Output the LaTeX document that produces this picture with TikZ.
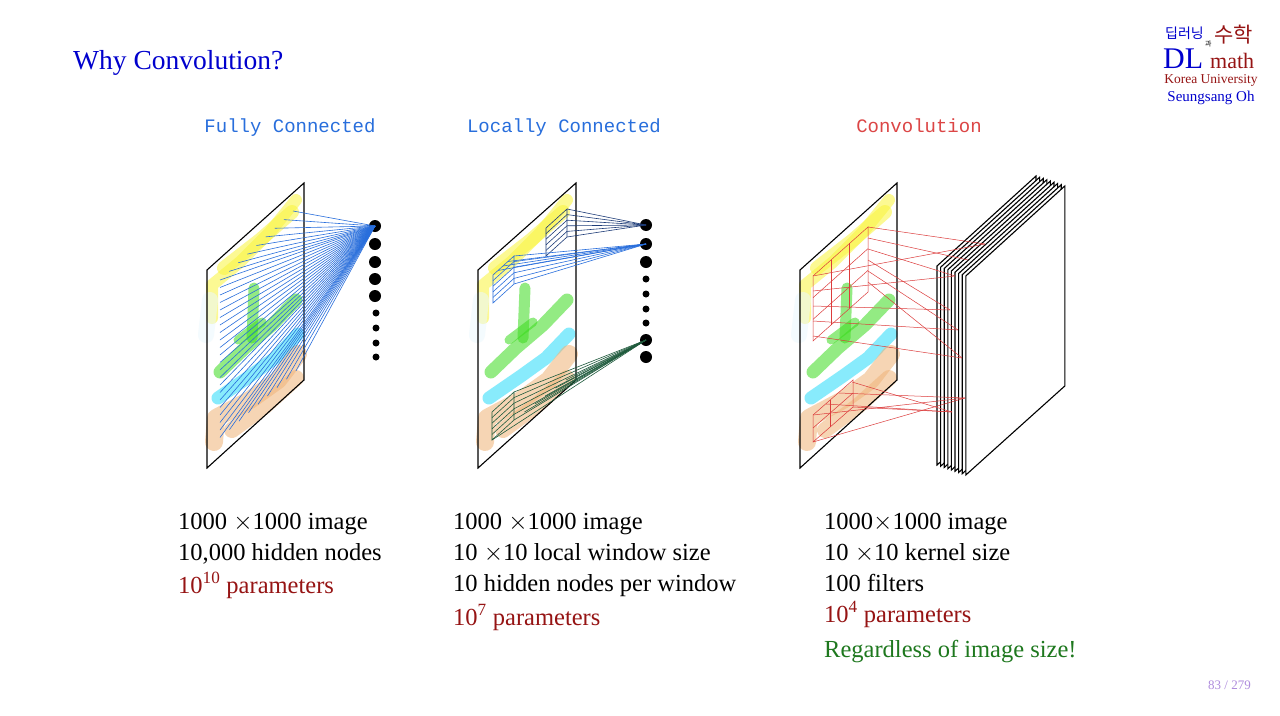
\documentclass[tikz,border=0pt]{standalone}
\usepackage{fontspec}
\setmainfont{Liberation Serif}
\newfontfamily\tw{Liberation Mono}
\newfontfamily\cjk{Noto Sans CJK KR}
\begin{document}
\begin{tikzpicture}[x=1pt,y=-1pt,
  pan/.style={draw=black,line width=1.1pt},
  blob/.style={line width=#1,line cap=round,line join=round,opacity=0.55},
  big/.style={circle,fill=black,inner sep=0pt,minimum size=12pt},
  small/.style={circle,fill=black,inner sep=0pt,minimum size=7pt},
  txt/.style={anchor=base west,font=\fontsize{24.5}{26}\selectfont,inner sep=0pt},
  head/.style={anchor=base,font=\tw\fontsize{19}{22}\selectfont,inner sep=0pt},
  fc/.style={draw={rgb,255:red,40;green,110;blue,220},line width=0.6pt},
  lcA/.style={draw={rgb,255:red,30;green,60;blue,120},line width=0.6pt},
  lcB/.style={draw={rgb,255:red,40;green,110;blue,220},line width=0.6pt},
  lcC/.style={draw={rgb,255:red,30;green,90;blue,60},line width=0.6pt},
  cv/.style={draw={rgb,255:red,220;green,60;blue,60},line width=0.5pt},
  sheet/.style={draw=black,fill=white,line width=1.1pt}]
\definecolor{dred}{RGB}{150,20,20}
\definecolor{hblue}{RGB}{40,110,220}
\definecolor{hred}{RGB}{220,70,70}
\definecolor{tblue}{RGB}{0,0,205}
\definecolor{dgreen}{RGB}{30,120,30}
\definecolor{byel}{RGB}{250,245,60}
\definecolor{bgrn}{RGB}{60,220,30}
\definecolor{bcya}{RGB}{40,220,250}
\definecolor{bora}{RGB}{240,180,120}
\useasboundingbox (0,0) rectangle (1280,715);
\fill[white] (0,0) rectangle (1280,715);
\newcommand\myblobs{%
  \draw[blob=12pt,byel] (212,318)--(212,285)--(240,262)--(270,232)--(296,200);
  \draw[blob=14pt,byel] (224,268)--(260,240)--(292,212);
  \draw[blob=16pt,cyan!8] (206,335)--(210,300);
  \draw[blob=11pt,bgrn] (254,288)--(252,338);
  \draw[blob=13pt,bgrn] (220,372)--(245,348)--(272,325)--(296,300);
  \draw[blob=9pt,bgrn] (238,340)--(262,322);
  \draw[blob=13pt,bcya] (218,398)--(250,376)--(275,358)--(298,334);
  \draw[blob=18pt,bora] (214,442)--(216,418)--(250,400)--(278,380)--(298,354);
  \draw[blob=16pt,bora] (232,430)--(265,406)--(296,378);
}
% title
\node[anchor=base west,inner sep=0pt,text=tblue,font=\fontsize{27.5}{28}\selectfont] (title) at (73,69) {Why Convolution?};
% logo
\node[anchor=base west,inner sep=0pt,text=tblue,font=\cjk\fontsize{14}{14}\selectfont] (k1) at (1165,38) {딥러닝};
\node[anchor=base west,inner sep=0pt,text=black,font=\cjk\fontsize{7}{7}\selectfont] (k2) at (1205,46) {과};
\node[anchor=base west,inner sep=0pt,text=dred,font=\cjk\fontsize{21}{21}\selectfont] (k3) at (1214,42) {수학};
\node[anchor=base west,inner sep=0pt,text=tblue,font=\fontsize{30}{30}\selectfont] (dl) at (1163,68) {DL};
\node[anchor=base west,inner sep=0pt,text=dred,font=\fontsize{22}{22}\selectfont] (mth) at (1210,68) {math};
\node[anchor=base,inner sep=0pt,text=dred,font=\fontsize{13.5}{13}\selectfont] (ku) at (1211,83) {Korea University};
\node[anchor=base,inner sep=0pt,text=tblue,font=\fontsize{15}{15}\selectfont] (so) at (1211,101) {Seungsang Oh};
% headings
\node[head,text=hblue] (h1) at (290,132) {Fully Connected};
\node[head,text=hblue] (h2) at (564,132) {Locally Connected};
\node[head,text=hred] (h3) at (919,132) {Convolution};
% ---------- panel 1
\myblobs
\draw[pan] (207,270)--(304,183)--(304,380)--(207,468)--cycle;
\node[big] (a1) at (375,226) {};
\node[big] (a2) at (375,244) {};
\node[big] (a3) at (375,262) {};
\node[big] (a4) at (375,279) {};
\node[big] (a5) at (375,296) {};
\node[small] (a6) at (376,313) {};
\node[small] (a7) at (376,328) {};
\node[small] (a8) at (376,343) {};
\node[small] (a9) at (376,357) {};
\foreach \i in {0,...,8}{\coordinate (u\i) at ({293-\i*73/8},{211+\i*69/8}); \draw[fc] (a1.center)--(u\i);}
\foreach \i in {1,...,21}{\coordinate (v\i) at (220,{280+\i*7.5}); \draw[fc] (a1.center)--(v\i);}
\foreach \i in {1,...,8}{\coordinate (w\i) at ({220+\i*9.5},{438-\i*8.4}); \draw[fc] (a1.center)--(w\i);}
% ---------- panel 2
\begin{scope}[xshift=271]\myblobs\end{scope}
\draw[pan] (478,270)--(576,183)--(576,380)--(478,468)--cycle;
\node[big] (b1) at (646,225) {};
\node[big] (b2) at (646,244) {};
\node[big] (b3) at (646,262) {};
\node[small] (b4) at (646,279) {};
\node[small] (b5) at (646,294) {};
\node[small] (b6) at (646,309) {};
\node[small] (b7) at (646,323) {};
\node[big] (b8) at (646,340) {};
\node[big] (b9) at (646,357) {};
% window A
\draw[lcA] (546,228)--(567,209)--(567,237)--(546,256)--cycle;
\foreach \i in {1,...,4}{\draw[lcA] (546,{228+\i*5.6})--(567,{209+\i*5.6});}
\foreach \i in {0,...,5}{\coordinate (pa\i) at (567,{209+\i*5.6}); \draw[lcA] (pa\i)--(b1.center);}
% window B
\draw[lcB] (493,303)--(493,275)--(514,256)--(514,284)--cycle;
\foreach \i in {1,...,4}{\draw[lcB] (493,{275+\i*5.6})--(514,{256+\i*5.6});}
\foreach \i in {0,...,5}{\coordinate (pb\i) at (514,{256+\i*5.6}); \draw[lcB] (pb\i)--(b2.center);}
\foreach \i in {1,...,3}{\coordinate (qb\i) at ({493+\i*5},{275-\i*4.5}); \draw[lcB] (qb\i)--(b2.center);}
% window C
\draw[lcC] (492,440)--(492,412)--(514,392)--(514,420)--cycle;
\foreach \i in {1,...,4}{\draw[lcC] (492,{412+\i*5.6})--(514,{392+\i*5.6});}
\foreach \i in {0,...,5}{\coordinate (pc\i) at (514,{392+\i*5.6}); \draw[lcC] (pc\i)--(b8.center);}
\foreach \i in {1,...,5}{\coordinate (qc\i) at ({514+\i*10.4},{420-\i*8}); \draw[lcC] (qc\i)--(b8.center);}
\coordinate (qc0) at (492,440); \draw[lcC] (qc0)--(b8.center);
% ---------- panel 3
\begin{scope}[xshift=593]\myblobs\end{scope}
\draw[pan] (800,270)--(897,183)--(897,380)--(800,468)--cycle;
\foreach \i in {0,...,8}{
  \draw[sheet] ({937+\i*3.6},{266+\i*1.25})--({1036+\i*3.6},{176+\i*1.25})--({1036+\i*3.6},{376+\i*1.25})--({937+\i*3.6},{465+\i*1.25})--cycle;}
\coordinate (s1) at (985,244);
\coordinate (s2) at (968,260);
\coordinate (s3) at (955,276);
\coordinate (s4) at (950,310);
\coordinate (s5) at (958,330);
\coordinate (s6) at (962,358);
\coordinate (s7) at (965,398);
\coordinate (s8) at (952,412);
% red big window
\draw[cv] (813,276)--(868,227)--(868,292)--(813,341)--cycle;
\foreach \f in {0.333,0.667}{\draw[cv] ({813+55*\f},{276-49*\f})--({813+55*\f},{341-49*\f});
  \draw[cv] (813,{276+65*\f})--(868,{227+65*\f});}
\foreach \i/\t in {1/s1,2/s2,3/s3,4/s4,5/s5,6/s6}{\coordinate (r\i) at (868,{227+(\i-1)*11}); \draw[cv] (r\i)--(\t);}
\foreach \i/\t in {1/s1,2/s3,3/s4,4/s5,5/s6}{\coordinate (rl\i) at (813,{276+(\i-1)*15}); \draw[cv] (rl\i)--(\t);}
% red small window
\draw[cv] (813,415)--(853,380)--(853,407)--(813,442)--cycle;
\draw[cv] (830,400)--(830,427);
\draw[cv] (813,428)--(853,393);
\foreach \i/\t in {1/s7,2/s8,3/s7,4/s8}{\coordinate (rs\i) at ({813+(\i-1)*13},{415-(\i-1)*11}); \draw[cv] (rs\i)--(\t);}
\coordinate (rs5) at (813,442); \draw[cv] (rs5)--(s7);
\coordinate (rs6) at (853,407); \draw[cv] (rs6)--(s8);
% ---------- texts
\node[txt] (t11) at (178,529) {1000 $\times$1000 image};
\node[txt] (t12) at (178,560) {10,000 hidden nodes};
\node[txt,text=dred] (t13) at (178,593) {10\textsuperscript{10} parameters};
\node[txt] (t21) at (453,529) {1000 $\times$1000 image};
\node[txt] (t22) at (453,560) {10 $\times$10 local window size};
\node[txt] (t23) at (453,591) {10 hidden nodes per window};
\node[txt,text=dred] (t24) at (453,625) {10\textsuperscript{7} parameters};
\node[txt] (t31) at (824,529) {1000$\times$1000 image};
\node[txt] (t32) at (824,560) {10 $\times$10 kernel size};
\node[txt] (t33) at (824,591) {100 filters};
\node[txt,text=dred] (t34) at (824,622) {10\textsuperscript{4} parameters};
\node[txt,text=dgreen] (t35) at (824,657) {Regardless of image size!};
\node[anchor=base east,inner sep=0pt,text=blue!40!violet!45,font=\fontsize{13}{13}\selectfont] (pg) at (1251,689) {83 / 279};
\end{tikzpicture}
\end{document}
